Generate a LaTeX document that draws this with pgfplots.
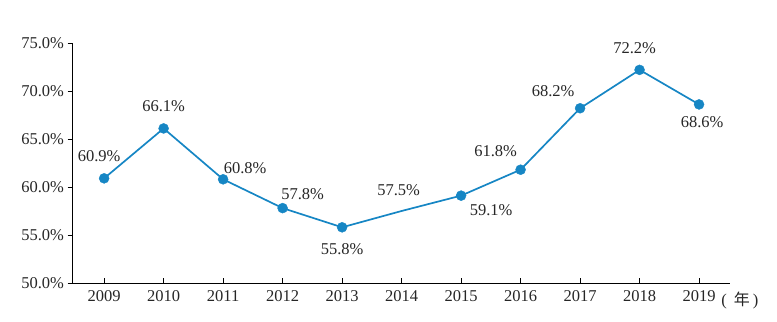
\documentclass[border=0pt]{standalone}
\usepackage{pgfplots}
\pgfplotsset{compat=1.18}
\usepackage{pgfplotstable}
\usepackage{fontspec}
\setmainfont{Liberation Serif}
\newfontfamily\cjk{Noto Sans CJK SC}
\definecolor{lineblue}{RGB}{22,134,196}
\pgfplotstableread{
x y dx dy
2009 60.9 -5 22
2010 66.1 0 22
2011 60.8 22 11
2012 57.8 20 14
2013 55.8 0 -22
2014 57.5 -3 21
2015 59.1 30 -14
2016 61.8 -25 19
2017 68.2 -27 17
2018 72.2 -5 22
2019 68.6 3 -18
}\datatable
\pgfplotstableread{
x y
2009 60.9
2010 66.1
2011 60.8
2012 57.8
2013 55.8
2015 59.1
2016 61.8
2017 68.2
2018 72.2
2019 68.6
}\marktable
\begin{document}
\begin{tikzpicture}[x=1pt,y=1pt]
\begin{axis}[
  scale only axis,
  width=658pt, height=240pt,
  xmin=2008.46, xmax=2019.52,
  ymin=50, ymax=75,
  axis x line*=bottom,
  axis y line*=left,
  axis line style={line width=0.8pt},
  xtick={2009,...,2019},
  ytick={50,55,...,75},
  x tick label style={/pgf/number format/1000 sep=, yshift=-4pt},
  yticklabel={\pgfmathprintnumber[fixed,fixed zerofill,precision=1]{\tick}\%},
  /pgf/number format/assume math mode=true,
  tick label style={font=\fontsize{16.5}{19}\selectfont, text=black!85},
  xtick style={draw=black, line width=0.8pt},
  ytick style={draw=black, line width=0.8pt},
  tick align=outside,
  major tick length=4.5pt,
  xtick align=inside,
  clip=false,
]
\addplot[color=lineblue, line width=1.7pt, no marks,
  visualization depends on={\thisrow{dx}\as\dx},
  visualization depends on={\thisrow{dy}\as\dy},
  nodes near coords={\pgfmathprintnumber[fixed,fixed zerofill,precision=1]{\pgfplotspointmeta}\%},
  point meta=explicit,
  nodes near coords style={anchor=center, xshift=\dx, yshift=\dy, font=\fontsize{16.5}{19}\selectfont, text=black!85, /pgf/number format/assume math mode=true},
] table[x=x, y=y, meta=y] {\datatable};
\addplot[color=lineblue, only marks, mark=*, mark size=5pt, mark options={fill=lineblue, draw=lineblue}] table[x=x,y=y] {\marktable};
\node[anchor=base west, inner sep=0pt, text=black!85, font=\fontsize{16.5}{19}\selectfont] at ([xshift=22pt, yshift=-22.5pt]axis cs:2019,50) {\makebox[12pt][l]{(}\makebox[17pt][c]{\cjk\fontsize{16}{18}\selectfont 年}\makebox[8pt][r]{)}};
\end{axis}
\useasboundingbox ([xshift=-72pt,yshift=-39pt]current axis.south west) rectangle ([xshift=47pt,yshift=43pt]current axis.north east);
\end{tikzpicture}
\end{document}
